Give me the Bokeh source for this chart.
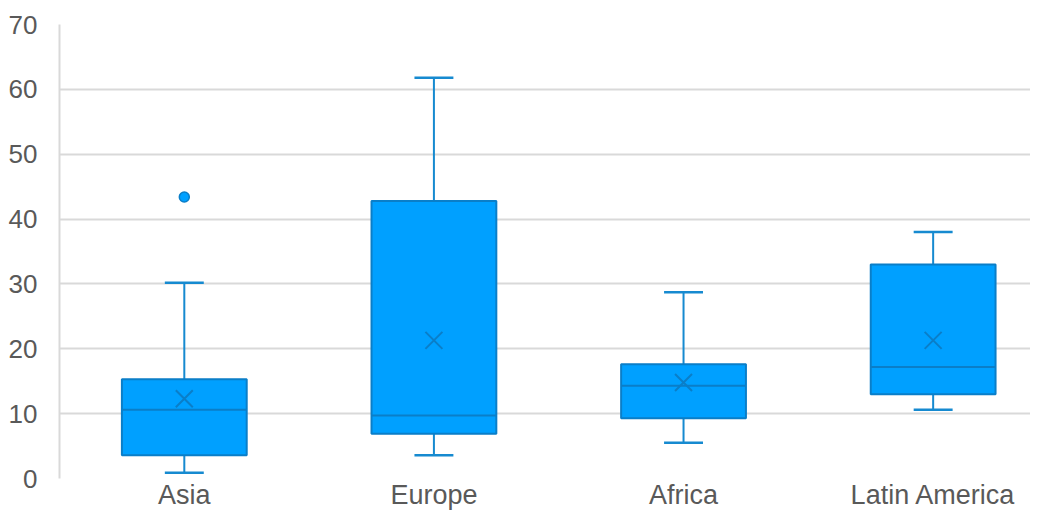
from bokeh.plotting import figure
from bokeh.models import Range1d, FixedTicker, ColumnDataSource
from bokeh.embed import file_html
from bokeh.resources import INLINE

categories = ["Asia", "Europe", "Africa", "Latin America"]
whisker_low = [0.9, 3.6, 5.5, 10.6]
q1 = [3.6, 6.9, 9.3, 13.0]
median = [10.6, 9.7, 14.3, 17.2]
q3 = [15.3, 42.8, 17.6, 33.0]
whisker_high = [30.2, 61.8, 28.7, 38.0]
mean = [12.3, 21.3, 14.8, 21.3]
outlier_cat = ["Asia"]
outlier_val = [43.4]

xs = [i + 0.5 for i in range(len(categories))]
box_w = 0.5
cap_w = 0.156

src = ColumnDataSource(dict(
    x=xs, lo=whisker_low, q1=q1, med=median, q3=q3, hi=whisker_high, mean=mean,
    bl=[x - box_w / 2 for x in xs], br=[x + box_w / 2 for x in xs],
    cl=[x - cap_w / 2 for x in xs], cr=[x + cap_w / 2 for x in xs],
))

FILL = "#00A0FF"
EDGE = "#0A7EC8"
WHISK = "#168AD0"
GRID = "#D9D9D9"
TEXT = "#595959"
FONT = "Liberation Sans"

p = figure(width=1030, height=512, output_backend="svg", toolbar_location=None,
           x_range=Range1d(0, 3.89), y_range=Range1d(0, 70),
           min_border_left=59, min_border_right=0, min_border_top=24,
           min_border_bottom=34)
p.outline_line_color = None
p.background_fill_color = "white"
p.border_fill_color = "white"

# whiskers
p.segment(x0="x", y0="q3", x1="x", y1="hi", source=src, line_color=WHISK, line_width=2)
p.segment(x0="x", y0="q1", x1="x", y1="lo", source=src, line_color=WHISK, line_width=2)
p.segment(x0="cl", y0="hi", x1="cr", y1="hi", source=src, line_color=WHISK, line_width=2.5)
p.segment(x0="cl", y0="lo", x1="cr", y1="lo", source=src, line_color=WHISK, line_width=2.5)

# boxes
p.vbar(x="x", width=box_w, bottom="q1", top="q3", source=src,
       fill_color=FILL, line_color=EDGE, line_width=2)
p.segment(x0="bl", y0="med", x1="br", y1="med", source=src, line_color=EDGE, line_width=2)

# mean markers
p.scatter(x="x", y="mean", source=src, marker="x", size=24, line_color=EDGE, line_width=2)

# outliers
ox = [xs[categories.index(c)] for c in outlier_cat]
p.scatter(x=ox, y=outlier_val, marker="circle", size=10, fill_color=FILL,
          line_color=EDGE, line_width=1.5)

# axes
p.xaxis.ticker = FixedTicker(ticks=xs)
p.xaxis.major_label_overrides = {x: c for x, c in zip(xs, categories)}
p.yaxis.ticker = FixedTicker(ticks=list(range(0, 71, 10)))
for ax in (p.xaxis[0], p.yaxis[0]):
    ax.major_tick_line_color = None
    ax.minor_tick_line_color = None
    ax.major_label_text_font = FONT
    ax.major_label_text_color = TEXT
p.yaxis.major_label_text_font_size = "26px"
p.xaxis.major_label_text_font_size = "27px"
ax = p.yaxis[0]
ax.axis_line_color = GRID
ax.axis_line_width = 2
ax.major_label_standoff = 16
p.xaxis.axis_line_color = None
p.xaxis.major_label_standoff = -5

p.xgrid.grid_line_color = None
p.ygrid.grid_line_color = GRID
p.ygrid.grid_line_width = 2
p.ygrid.ticker = FixedTicker(ticks=list(range(0, 71, 10)))

open("out.html", "w").write(file_html(p, INLINE))
